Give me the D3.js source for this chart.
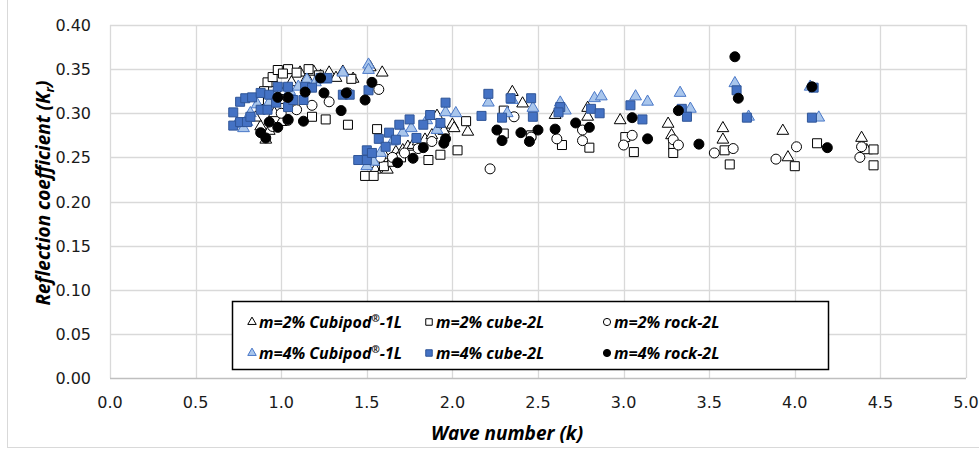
<!DOCTYPE html>
<html><head><meta charset="utf-8">
<script src="https://cdn.jsdelivr.net/npm/d3@7"></script>
<style>body{margin:0;background:#fff}svg{display:block}</style>
</head><body>
<svg id="c" width="979" height="452"></svg>
<script>
// ---- data (k, Kr) ----
const cubi2K  = [0.91,0.93,0.88,0.96,0.99,0.96,1.02,1.06,1.11,1.15,1.19,1.23,1.28,1.32,1.36,1.42,1.52,1.59,0.85,1.00,
  1.55,1.58,1.60,1.60,1.62,1.65,1.67,1.71,1.74,1.77,1.80,1.84,1.88,1.91,1.95,2.00,2.01,2.09,
  2.35,2.41,2.60,2.79,2.79,2.98,3.26,3.28,3.58,3.58,3.93,3.96,4.39,4.42];
const cubi2Kr = [0.270,0.280,0.285,0.300,0.315,0.334,0.325,0.335,0.346,0.340,0.347,0.342,0.346,0.340,0.347,0.339,0.352,0.346,0.295,0.290,
  0.236,0.245,0.239,0.253,0.236,0.248,0.256,0.258,0.262,0.264,0.268,0.270,0.275,0.297,0.280,0.287,0.283,0.279,
  0.324,0.311,0.298,0.306,0.296,0.292,0.288,0.275,0.283,0.270,0.280,0.250,0.272,0.258];

const cube2K  = [0.92,0.95,0.98,1.04,1.09,1.16,1.01,0.90,1.18,1.26,1.39,1.41,1.22,0.87,
  1.49,1.54,1.56,1.60,1.65,1.70,1.86,1.93,2.03,2.08,
  2.30,2.30,2.46,2.64,2.80,3.01,3.06,3.29,3.29,3.59,3.62,4.00,4.13,4.46,4.46];
const cube2Kr = [0.335,0.341,0.349,0.350,0.346,0.350,0.345,0.325,0.296,0.293,0.287,0.339,0.343,0.315,
  0.229,0.229,0.282,0.240,0.245,0.250,0.247,0.253,0.258,0.291,
  0.277,0.303,0.275,0.264,0.261,0.273,0.256,0.264,0.255,0.258,0.242,0.240,0.266,0.259,0.241];

const rock2K  = [1.04,1.09,1.18,1.28,1.39,1.57,0.95,1.00,
  1.58,1.65,1.72,1.80,1.88,
  2.22,2.36,2.46,2.61,2.76,2.76,3.05,3.00,3.29,3.32,3.53,3.64,3.89,4.01,4.38,4.39];
const rock2Kr = [0.292,0.304,0.309,0.313,0.323,0.327,0.285,0.300,
  0.250,0.250,0.255,0.260,0.268,
  0.237,0.296,0.273,0.271,0.281,0.269,0.275,0.264,0.270,0.264,0.255,0.260,0.248,0.262,0.250,0.262];

const cubi4K  = [0.74,0.78,0.82,0.86,0.93,0.97,1.05,1.15,1.20,1.26,1.36,1.51,1.51,0.80,1.10,
  1.54,1.50,1.58,1.65,1.71,1.76,1.85,1.91,1.96,2.02,
  2.21,2.35,2.32,2.47,2.63,2.66,2.83,2.87,3.07,3.14,3.33,3.39,3.65,3.73,4.09,4.14];
const cubi4Kr = [0.288,0.283,0.300,0.310,0.312,0.320,0.325,0.338,0.335,0.338,0.346,0.355,0.349,0.290,0.330,
  0.245,0.240,0.255,0.268,0.278,0.283,0.292,0.281,0.301,0.300,
  0.312,0.315,0.300,0.306,0.312,0.303,0.317,0.319,0.319,0.313,0.323,0.305,0.334,0.296,0.330,0.295];

const cube4K  = [0.72,0.72,0.76,0.79,0.76,0.80,0.82,0.83,0.88,0.88,0.92,0.93,0.98,1.04,0.97,1.04,1.07,1.13,1.14,1.18,1.23,1.27,1.36,1.40,1.51,
  1.45,1.50,1.50,1.53,1.57,1.63,1.69,1.75,1.79,1.83,1.87,1.93,1.96,1.61,1.67,
  2.21,2.17,2.29,2.34,2.46,2.47,2.63,2.62,2.81,2.86,3.04,3.11,3.34,3.37,3.66,3.72,4.11,4.10];
const cube4Kr = [0.301,0.286,0.313,0.317,0.290,0.290,0.296,0.318,0.323,0.304,0.304,0.321,0.330,0.330,0.312,0.307,0.315,0.315,0.330,0.329,0.340,0.340,0.321,0.321,0.326,
  0.247,0.258,0.247,0.255,0.271,0.278,0.287,0.293,0.272,0.287,0.298,0.289,0.312,0.262,0.270,
  0.322,0.297,0.295,0.317,0.317,0.296,0.307,0.301,0.305,0.300,0.309,0.293,0.305,0.296,0.326,0.295,0.329,0.295];

const rock4K  = [0.88,0.91,0.93,0.98,0.98,1.04,1.04,1.13,1.14,1.23,1.25,1.35,1.38,1.49,1.53,
  1.68,1.77,1.83,1.95,1.96,
  2.26,2.29,2.40,2.45,2.50,2.60,2.72,2.80,3.05,3.14,3.32,3.44,3.65,3.67,4.10,4.19];
const rock4Kr = [0.278,0.272,0.290,0.284,0.318,0.318,0.293,0.291,0.324,0.340,0.323,0.303,0.323,0.315,0.335,
  0.244,0.249,0.261,0.266,0.271,
  0.281,0.269,0.278,0.268,0.281,0.282,0.289,0.284,0.295,0.271,0.303,0.265,0.364,0.317,0.330,0.261];

const seriesNames = ["m=2% Cubipod®-1L","m=2% cube-2L","m=2% rock-2L","m=4% Cubipod®-1L","m=4% cube-2L","m=4% rock-2L"];
const xTicks = [0,0.5,1,1.5,2,2.5,3,3.5,4,4.5,5];
const yTicks = [0,0.05,0.10,0.15,0.20,0.25,0.30,0.35,0.40];

// ---- styles ----
const styles = [
  {shape:"tri", fill:"#ffffff", stroke:"#000000"},
  {shape:"sq",  fill:"#ffffff", stroke:"#000000"},
  {shape:"ci",  fill:"#ffffff", stroke:"#000000"},
  {shape:"tri", fill:"#a9c6ec", stroke:"#4a78c8"},
  {shape:"sq",  fill:"#4472c4", stroke:"#2f5597"},
  {shape:"ci",  fill:"#000000", stroke:"#000000"}
];
const seriesData = [[cubi2K,cubi2Kr],[cube2K,cube2Kr],[rock2K,rock2Kr],[cubi4K,cubi4Kr],[cube4K,cube4Kr],[rock4K,rock4Kr]];

const svg = d3.select("#c");
const L=110, R=966, T=25, B=378;
const x = d3.scaleLinear().domain([0,5]).range([L,R]);
const y = d3.scaleLinear().domain([0,0.4]).range([B,T]);

// outer border
svg.append("rect").attr("x",7.5).attr("y",-2).attr("width",990).attr("height",449.5)
  .attr("fill","#fff").attr("stroke","#d9d9d9");

// grid
const g = svg.append("g");
g.selectAll(".hg").data(yTicks.filter(d=>d>0)).join("line")
  .attr("x1",L).attr("x2",R).attr("y1",d=>Math.round(y(d))+0.5).attr("y2",d=>Math.round(y(d))+0.5)
  .attr("stroke","#d9d9d9").attr("stroke-width",1.3);
g.selectAll(".vg").data(xTicks).join("line")
  .attr("y1",T).attr("y2",B).attr("x1",d=>Math.round(x(d))+0.5).attr("x2",d=>Math.round(x(d))+0.5)
  .attr("stroke","#d9d9d9").attr("stroke-width",1.3);
g.append("line").attr("x1",L).attr("x2",R).attr("y1",B+0.5).attr("y2",B+0.5).attr("stroke","#bfbfbf").attr("stroke-width",1.3);

// tick labels
const tickFont = "DejaVu Sans, sans-serif";
svg.append("g").selectAll("text").data(yTicks).join("text")
  .attr("x",91).attr("y",d=>y(d)+6).attr("text-anchor","end")
  .attr("font-family",tickFont).attr("font-size",16).attr("fill","#1a1a1a")
  .text(d=>d3.format(".2f")(d));
svg.append("g").selectAll("text").data(xTicks).join("text")
  .attr("x",d=>x(d)).attr("y",408).attr("text-anchor","middle")
  .attr("font-family",tickFont).attr("font-size",16).attr("fill","#1a1a1a")
  .text(d=>d3.format(".1f")(d));

// axis titles
const titleFont = "'Open Sans', sans-serif";
svg.append("text").attr("x",507).attr("y",440).attr("text-anchor","middle")
  .attr("font-family",titleFont).attr("font-size",19).attr("font-weight","bold").attr("font-style","italic")
  .attr("fill","#000").text("Wave number (k)");
const yt = svg.append("text").attr("transform","translate(50,193) rotate(-90)").attr("text-anchor","middle")
  .attr("font-family",titleFont).attr("font-size",19).attr("font-weight","bold").attr("font-style","italic").attr("fill","#000");
yt.append("tspan").text("Reflection coefficient (K");
yt.append("tspan").attr("font-size",13).attr("dy",4).text("r");
yt.append("tspan").attr("dy",-4).text(")");

// marker drawing
function drawMarker(sel, st, scale){
  if(st.shape==="tri"){
    sel.append("path").attr("d",d3.symbol(d3.symbolTriangle, 60*scale*scale)());
  } else if(st.shape==="sq"){
    sel.append("path").attr("d",d3.symbol(d3.symbolSquare, 81*scale*scale)());
  } else {
    sel.append("circle").attr("r",5*scale);
  }
  sel.selectAll("path,circle").attr("fill",st.fill).attr("stroke",st.stroke).attr("stroke-width",1);
}

const pts = svg.append("g");
seriesData.forEach((sd,i)=>{
  const st = styles[i];
  const data = sd[0].map((k,j)=>[k, sd[1][j]]);
  const grp = pts.append("g");
  grp.selectAll("g").data(data).join("g")
    .attr("transform",d=>`translate(${x(d[0])},${y(d[1])})`)
    .each(function(){ drawMarker(d3.select(this), st, 1); });
});

// legend
const lg = svg.append("g");
lg.append("rect").attr("x",232.5).attr("y",301.5).attr("width",596).attr("height",68)
  .attr("fill","#fff").attr("stroke","#000").attr("stroke-width",1.5);
const colX = [252,429,607], rowY=[322,353];
seriesNames.forEach((name,i)=>{
  const cx = colX[i%3], cy = rowY[Math.floor(i/3)];
  const m = lg.append("g").attr("transform",`translate(${cx},${cy})`);
  drawMarker(m, styles[i], 0.72);
  const t = lg.append("text").attr("x",cx+7).attr("y",cy+6)
    .attr("font-family",titleFont).attr("font-size",16).attr("font-weight","bold").attr("font-style","italic")
    .attr("fill","#000");
  const parts = name.split("®");
  t.append("tspan").text(parts[0]);
  if(parts.length>1){
    t.append("tspan").attr("font-size",10).attr("dy",-6).text("®");
    t.append("tspan").attr("dy",6).text(parts[1]);
  }
});
</script>
</body></html>
